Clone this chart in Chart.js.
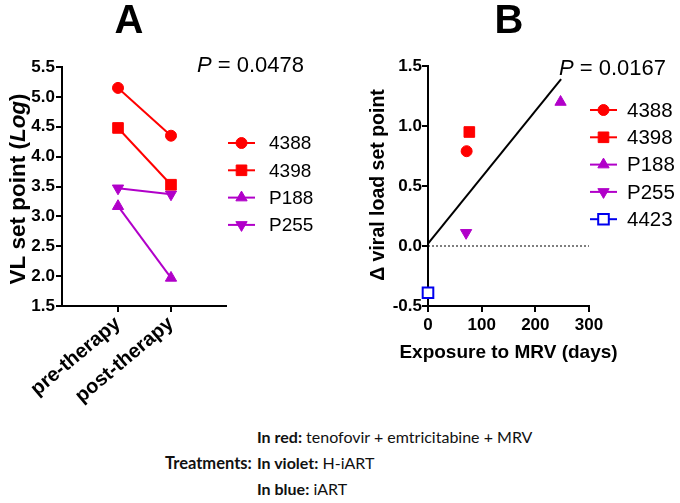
<!DOCTYPE html>
<html>
<head>
<meta charset="utf-8">
<script src="https://cdn.jsdelivr.net/npm/chart.js@4.4.1/dist/chart.umd.min.js"></script>
<style>
  body { margin: 0; background: #fff; }
  #wrap { position: relative; width: 680px; height: 503px; overflow: hidden; }
  canvas { position: absolute; top: 0; }
  .tx { position: absolute; font-family: Lato, "Open Sans", sans-serif; font-size: 16px; color: #111; white-space: nowrap; line-height: 20px; }
  .tx b { font-weight: 700; }
</style>
</head>
<body>
<div id="wrap">
  <canvas id="chartA" width="340" height="420" style="left:0"></canvas>
  <canvas id="chartB" width="340" height="400" style="left:340px"></canvas>
  <div class="tx" style="left:165px; top:453px; font-size:16.5px;"><b>Treatments:</b></div>
  <div class="tx" style="left:257px; top:427px;"><b>In red:</b> tenofovir + emtricitabine + MRV</div>
  <div class="tx" style="left:257px; top:453px;"><b>In violet:</b> H-iART</div>
  <div class="tx" style="left:257px; top:479px;"><b>In blue:</b> iART</div>
</div>
<script>
Chart.defaults.font.family = "'Liberation Sans', Arial, sans-serif";
Chart.defaults.color = "black";
Chart.defaults.animation = false;

// panel A: set point before / after therapy
const categories = ['pre-therapy', 'post-therapy'];
const patientsA = ['4388', '4398', 'P188', 'P255'];
const vl4388 = [5.15, 4.35];
const vl4398 = [4.48, 3.53];
const vlP188 = [3.17, 1.97];
const vlP255 = [3.47, 3.37];
const yTicksA = [1.5, 2.0, 2.5, 3.0, 3.5, 4.0, 4.5, 5.0, 5.5];

// panel B: change vs exposure
const patientsB = ['4388', '4398', 'P188', 'P255', '4423'];
const exposureDays = [72, 77, 247, 71, 0];
const deltaVL = [0.79, 0.95, 1.20, 0.11, -0.39];
const fitX = [0, 248];
const fitY = [0.02, 1.39];
const xTicksB = [0, 100, 200, 300];
const yTicksB = [-0.5, 0.0, 0.5, 1.0, 1.5];

const RED = '#ff0000', VIOLET = '#b100c9', BLUE = '#0000ee';
const FAM = "'Liberation Sans', Arial";
const markers = {
  '4388': {style: 'circle', rot: 0, r: 5.5, color: RED},
  '4398': {style: 'rect', rot: 0, r: 7.5, color: RED},
  'P188': {style: 'triangle', rot: 0, r: 6.5, color: VIOLET},
  'P255': {style: 'triangle', rot: 180, r: 6.5, color: VIOLET},
  '4423': {style: 'rect', rot: 0, r: 7.5, color: BLUE, open: true}
};

function drawRuns(ctx, runs, x, y, align) {
  let total = 0;
  runs.forEach(r => { ctx.font = r.font; total += ctx.measureText(r.text).width; });
  let cx = align === 'center' ? x - total / 2 : x;
  ctx.textAlign = 'left';
  runs.forEach(r => {
    ctx.font = r.font;
    ctx.fillText(r.text, cx, y);
    cx += ctx.measureText(r.text).width;
  });
}

const sideLegend = {
  id: 'sideLegend',
  afterDraw(chart, args, opts) {
    const ctx = chart.ctx;
    ctx.save();
    let i = 0;
    chart.data.datasets.forEach(ds => {
      if (ds.noLegend) return;
      const m = markers[ds.label];
      const y = opts.y + i * opts.gap;
      ctx.strokeStyle = m.color;
      ctx.lineWidth = 2;
      ctx.beginPath();
      ctx.moveTo(opts.x, y);
      ctx.lineTo(opts.x + opts.len, y);
      ctx.stroke();
      ctx.fillStyle = m.open ? '#fff' : m.color;
      ctx.lineWidth = m.open ? 2 : 1;
      Chart.helpers.drawPoint(ctx, {pointStyle: m.style, rotation: m.rot, radius: m.r, borderWidth: ctx.lineWidth},
        opts.x + opts.len / 2, y);
      ctx.fillStyle = '#000';
      ctx.font = opts.font;
      ctx.textBaseline = 'middle';
      ctx.textAlign = 'left';
      ctx.fillText(ds.label, opts.textX, y + 1);
      i++;
    });
    ctx.restore();
  }
};

const notes = {
  id: 'notes',
  afterDraw(chart, args, opts) {
    const ctx = chart.ctx;
    ctx.save();
    ctx.fillStyle = '#000';
    ctx.textBaseline = 'alphabetic';
    ctx.font = 'bold 40px ' + FAM;
    ctx.textAlign = 'center';
    ctx.fillText(opts.title, opts.titleX, 33);
    drawRuns(ctx, [
      {text: 'P', font: 'italic 22px ' + FAM},
      {text: ' = ' + opts.p, font: '22px ' + FAM}
    ], opts.pX, opts.pY, 'left');
    if (opts.xTitle) {
      ctx.font = 'bold 19px ' + FAM;
      ctx.textAlign = 'center';
      ctx.fillText(opts.xTitle.text, (chart.chartArea.left + chart.chartArea.right) / 2, opts.xTitle.y);
    }
    if (opts.yTitle) {
      ctx.translate(opts.yTitle.x, opts.yTitle.y);
      ctx.rotate(-Math.PI / 2);
      const f = opts.yTitle.size + 'px ' + FAM;
      drawRuns(ctx, opts.yTitle.runs.map(r => ({text: r[0], font: r[1] + ' ' + f})), 0, 0, 'center');
    }
    ctx.restore();
  }
};

function ds(label, data, extra) {
  const m = markers[label];
  return Object.assign({
    label: label,
    data: data,
    borderColor: m.color,
    backgroundColor: m.open ? '#fff' : m.color,
    pointBackgroundColor: m.open ? '#fff' : m.color,
    pointBorderColor: m.color,
    pointBorderWidth: m.open ? 2 : 1,
    pointStyle: m.style,
    pointRotation: m.rot,
    pointRadius: m.r,
    borderWidth: 2,
    clip: false
  }, extra || {});
}

const axisGrid = {drawOnChartArea: false, color: '#000', lineWidth: 2, tickLength: 6};
const tickFont = {size: 17, weight: 'bold'};

const seriesA = [vl4388, vl4398, vlP188, vlP255];
new Chart(document.getElementById('chartA'), {
  type: 'line',
  data: {
    datasets: patientsA.map((p, k) => ds(p, seriesA[k].map((y, i) => ({x: i, y: y}))))
  },
  options: {
    responsive: false,
    layout: {padding: {top: 67, right: 114, left: 0, bottom: 0}},
    plugins: {
      legend: {display: false},
      tooltip: {enabled: false},
      sideLegend: {x: 228, y: 143, gap: 27.3, len: 27, textX: 269, font: '19px ' + FAM},
      notes: {
        title: 'A', titleX: 129, p: '0.0478', pX: 197, pY: 72,
        yTitle: {x: 25, y: 189, size: 22.5, runs: [['VL set point (', 'bold'], ['Log', 'italic bold'], [')', 'bold']]}
      }
    },
    scales: {
      x: {
        type: 'linear', min: -1.057, max: 2.038,
        afterBuildTicks: s => { s.ticks = categories.map((c, i) => ({value: i})); },
        afterFit: s => { s.height = 114; },
        grid: axisGrid,
        border: {color: '#000', width: 2},
        ticks: {
          font: {size: 20, weight: 'bold'}, autoSkip: false, minRotation: 40, maxRotation: 40, padding: 0,
          callback: v => categories[v]
        }
      },
      y: {
        min: 1.5, max: 5.5,
        afterBuildTicks: s => { s.ticks = yTicksA.map(v => ({value: v})); },
        afterFit: s => { s.width = 62; },
        grid: axisGrid,
        border: {color: '#000', width: 2},
        ticks: {font: tickFont, padding: 1, callback: v => v.toFixed(1)}
      }
    }
  },
  plugins: [sideLegend, notes]
});

const pointsB = patientsB.map((p, i) => ds(p, [{x: exposureDays[i], y: deltaVL[i]}], {showLine: false}));
pointsB.push({
  label: 'fit', noLegend: true, data: fitX.map((x, i) => ({x: x, y: fitY[i]})),
  showLine: true, borderColor: '#000', borderWidth: 2, pointRadius: 0, clip: false
});
pointsB.push({
  label: 'zero', noLegend: true, data: [{x: xTicksB[0], y: 0}, {x: xTicksB[xTicksB.length - 1], y: 0}],
  showLine: true, borderColor: '#000', borderWidth: 1, borderDash: [2, 2], pointRadius: 0
});

new Chart(document.getElementById('chartB'), {
  type: 'scatter',
  data: {datasets: pointsB},
  options: {
    responsive: false,
    layout: {padding: {top: 66, right: 91, left: 0, bottom: 0}},
    plugins: {
      legend: {display: false},
      tooltip: {enabled: false},
      sideLegend: {x: 250, y: 110, gap: 27.3, len: 27, textX: 287, font: '20.5px ' + FAM},
      notes: {
        title: 'B', titleX: 169, p: '0.0167', pX: 219, pY: 75,
        xTitle: {text: 'Exposure to MRV (days)', y: 358},
        yTitle: {x: 44, y: 185, size: 19.5, runs: [['Δ viral load set point', 'bold']]}
      }
    },
    scales: {
      x: {
        type: 'linear', min: 0, max: 300,
        afterBuildTicks: s => { s.ticks = xTicksB.map(v => ({value: v})); },
        afterFit: s => { s.height = 94; },
        grid: axisGrid,
        border: {color: '#000', width: 2},
        ticks: {font: tickFont, padding: 3}
      },
      y: {
        min: -0.5, max: 1.5,
        afterBuildTicks: s => { s.ticks = yTicksB.map(v => ({value: v})); },
        afterFit: s => { s.width = 88; },
        grid: axisGrid,
        border: {color: '#000', width: 2},
        ticks: {font: tickFont, padding: 0, callback: v => v.toFixed(1)}
      }
    }
  },
  plugins: [sideLegend, notes]
});
</script>
</body>
</html>
